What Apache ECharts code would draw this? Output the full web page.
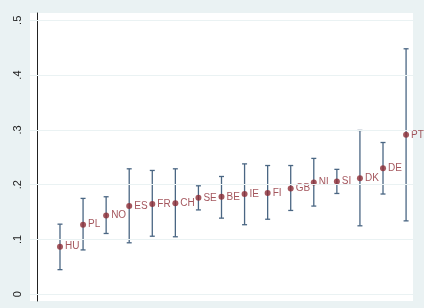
<!DOCTYPE html>
<html>
<head>
<meta charset="utf-8">
<script src="https://cdn.jsdelivr.net/npm/echarts@6/dist/echarts.min.js"></script>
<style>
  html, body { margin: 0; padding: 0; background: #eaf2f3; }
  #main { width: 424px; height: 308px; }
</style>
</head>
<body>
<div id="main"></div>
<script>
// countries, sorted by estimate
const countries = ['HU', 'PL', 'NO', 'ES', 'FR', 'CH', 'SE', 'BE', 'IE', 'FI', 'GB', 'NL', 'SI', 'DK', 'DE', 'PT'];
const estimate = [0.087, 0.127, 0.144, 0.161, 0.165, 0.166, 0.176, 0.178, 0.183, 0.185, 0.193, 0.204, 0.206, 0.212, 0.230, 0.291];
const lower    = [0.045, 0.081, 0.111, 0.094, 0.106, 0.105, 0.154, 0.139, 0.127, 0.137, 0.153, 0.161, 0.184, 0.125, 0.183, 0.134];
const upper    = [0.128, 0.175, 0.178, 0.229, 0.226, 0.229, 0.198, 0.215, 0.238, 0.235, 0.235, 0.248, 0.228, 0.299, 0.277, 0.448];
const yTicks = [0, 0.1, 0.2, 0.3, 0.4, 0.5];

const myChart = echarts.init(document.getElementById('main'));

const barData = countries.map((c, i) => [i + 1, lower[i], upper[i]]);
const pointData = countries.map((c, i) => ({ value: [i + 1, estimate[i]], name: c }));

function fmtTick(v) {
  if (v === 0) return '0';
  return String(Math.round(v * 10) / 10).replace(/^0/, '');
}

const option = {
  backgroundColor: '#eaf2f3',
  animation: false,
  grid: {
    left: 30, right: 11, top: 13, bottom: 7,
    outerBoundsMode: 'none', containLabel: false,
    show: true, backgroundColor: '#ffffff', borderWidth: 0
  },
  xAxis: {
    type: 'value', min: -0.3, max: 16.3,
    show: false
  },
  yAxis: {
    type: 'value', min: -0.0122, max: 0.5133,
    axisLine: { show: true, lineStyle: { color: '#222', width: 1 } },
    axisTick: { show: true, inside: false, length: 4, customValues: yTicks, lineStyle: { color: '#222' } },
    axisLabel: {
      customValues: yTicks, rotate: 90, margin: 7,
      color: '#222', fontSize: 11, fontFamily: 'Liberation Sans, Arial, sans-serif',
      formatter: fmtTick
    },
    splitLine: { show: false }
  },
  series: [
    {
      // faint horizontal gridlines
      type: 'line', data: [], silent: true,
      markLine: {
        symbol: 'none', silent: true, label: { show: false },
        lineStyle: { color: '#eaf2f3', width: 1, type: 'solid' },
        data: yTicks.map(v => ({ yAxis: v }))
      }
    },
    {
      type: 'custom',
      data: barData,
      renderItem: function (params, api) {
        const x = api.value(0);
        const lo = api.coord([x, api.value(1)]);
        const hi = api.coord([x, api.value(2)]);
        const cap = 2.5;
        const style = { stroke: '#4a6683', lineWidth: 1.3 };
        return {
          type: 'group',
          children: [
            { type: 'line', shape: { x1: lo[0], y1: lo[1], x2: hi[0], y2: hi[1] }, style: style },
            { type: 'line', shape: { x1: hi[0] - cap, y1: hi[1], x2: hi[0] + cap, y2: hi[1] }, style: style },
            { type: 'line', shape: { x1: lo[0] - cap, y1: lo[1], x2: lo[0] + cap, y2: lo[1] }, style: style }
          ]
        };
      },
      z: 2
    },
    {
      type: 'scatter',
      data: pointData,
      symbol: 'circle',
      symbolSize: 6,
      itemStyle: { color: '#8c2a33' },
      label: {
        show: true, position: 'right', distance: 2,
        formatter: '{b}', color: '#8c2a33', fontSize: 10,
        fontFamily: 'Liberation Sans, Arial, sans-serif'
      },
      z: 3
    }
  ]
};
myChart.setOption(option);
</script>
</body>
</html>
